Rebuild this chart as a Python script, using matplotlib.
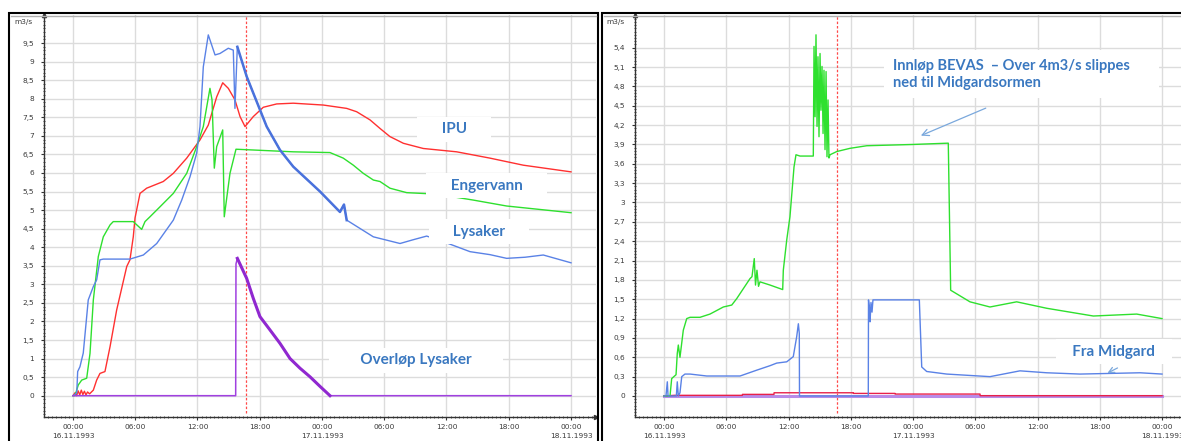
import numpy as np
import matplotlib.pyplot as plt
from matplotlib.patches import Rectangle
from matplotlib.ticker import MultipleLocator

# time in hours since 16.11.1993 00:00, flow in m3/s
marker_hour = 16.65  # red dashed line

# --- left panel: Lysaker
lys_t = [0, 0.36, 0.45, 0.67, 0.99, 1.47, 1.96, 2.28, 2.60, 2.92, 5.49, 6.78, 8.07, 9.67, 10.48,
         11.28, 11.92, 12.24, 12.56, 13.04, 13.69, 14.17, 14.97, 15.45, 15.61, 15.84, 16.74, 17.38,
         18.67, 19.95, 21.23, 23.81, 25.73, 26.12, 26.38, 28.95, 31.52, 32.77, 34.09, 35.69, 38.27,
         40.19, 41.80, 43.57, 45.33, 48.0]
lys_q = [0, 0.07, 0.65, 0.78, 1.15, 2.58, 2.94, 3.12, 3.66, 3.68, 3.68, 3.79, 4.10, 4.73, 5.27,
         5.90, 6.53, 7.25, 8.86, 9.72, 9.18, 9.22, 9.36, 9.31, 7.74, 9.40, 8.60, 8.15,
         7.25, 6.62, 6.17, 5.50, 4.95, 5.15, 4.73, 4.28, 4.10, 4.20, 4.30, 4.15, 3.88,
         3.80, 3.70, 3.73, 3.79, 3.58]

ipu_t = [0, 0.2, 0.35, 0.5, 0.65, 0.8, 0.95, 1.1, 1.25, 1.4, 1.6, 1.96, 2.28, 2.60, 3.08, 3.57,
         4.21, 5.18, 5.49, 5.81, 5.98, 6.46, 7.10, 7.90, 8.70, 9.67, 10.96, 12.24, 13.04, 13.85,
         14.43, 14.97, 15.61, 16.10, 16.58, 17.38, 18.34, 19.63, 21.23, 24.13, 26.38, 27.34, 28.63,
         29.59, 30.55, 31.20, 31.84, 32.80, 33.76, 36.98, 40.19, 43.40, 48.0]
ipu_q = [0, 0.08, 0.0, 0.13, 0.02, 0.15, 0.03, 0.12, 0.02, 0.10, 0.05, 0.15, 0.42, 0.60, 0.65, 1.32,
         2.31, 3.48, 3.66, 4.28, 4.79, 5.45, 5.59, 5.68, 5.77, 5.99, 6.40, 6.89, 7.29, 8.05,
         8.43, 8.28, 7.97, 7.52, 7.25, 7.52, 7.77, 7.86, 7.88, 7.83, 7.74, 7.65, 7.43,
         7.20, 6.98, 6.89, 6.80, 6.73, 6.66, 6.57, 6.40, 6.21, 6.03]

eng_t = [0, 0.19, 0.51, 0.84, 1.32, 1.64, 1.96, 2.44, 2.92, 3.57, 3.88, 5.81, 6.62, 6.94, 7.42,
         8.39, 9.67, 10.96, 11.92, 12.56, 13.20, 13.40, 13.62, 13.85, 14.43, 14.58, 15.13, 15.71,
         21.23, 24.77, 26.05, 27.02, 27.98, 28.95, 29.59, 30.55, 32.16, 35.06, 38.58, 41.80, 48.0]
eng_q = [0, 0.0, 0.29, 0.42, 0.47, 1.14, 2.58, 3.75, 4.28, 4.60, 4.69, 4.69, 4.48, 4.69, 4.82,
         5.09, 5.45, 5.99, 6.71, 7.25, 8.28, 7.97, 6.13, 6.71, 7.16, 4.82, 5.99, 6.64,
         6.57, 6.55, 6.40, 6.21, 5.99, 5.81, 5.77, 5.59, 5.47, 5.43, 5.27, 5.11, 4.93]

ovl_t = [0, 15.68, 15.71, 15.84, 16.74, 17.38, 18.02, 18.99, 19.95, 20.92, 21.88, 22.84, 23.81, 24.77, 48.0]
ovl_q = [0, 0, 3.55, 3.70, 3.16, 2.62, 2.13, 1.77, 1.41, 1.00, 0.74, 0.51, 0.25, 0, 0]

# --- right panel: BEVAS / Midgard
bev_t = [0, 0.58, 0.74, 1.16, 1.28, 1.38, 1.54, 1.86, 2.19, 2.51, 3.47, 4.43, 5.72, 6.53, 7.01,
         8.29, 8.48, 8.70, 8.82, 8.96, 9.11, 9.25, 10.22, 11.44, 11.50, 11.83, 12.14, 12.53, 12.72,
         13.11, 14.39, 14.46, 14.56, 14.65, 14.75, 14.84, 14.94, 15.04, 15.13, 15.23, 15.33, 15.42,
         15.52, 15.62, 15.71, 15.81, 15.90, 16.00, 16.65, 17.93, 19.54, 21.78, 24.03, 27.40, 27.63,
         29.49, 31.42, 33.99, 36.89, 41.38, 45.56, 48.0]
bev_q = [0, 0, 0.27, 0.33, 0.66, 0.79, 0.60, 1.02, 1.20, 1.22, 1.22, 1.27, 1.38, 1.41, 1.51,
         1.82, 1.85, 2.13, 1.72, 1.95, 1.70, 1.77, 1.72, 1.65, 1.95, 2.42, 2.78, 3.55, 3.74,
         3.72, 3.72, 5.42, 4.33, 5.60, 4.18, 5.26, 4.02, 5.31, 4.43, 5.11, 4.07, 5.05,
         3.82, 5.03, 3.71, 4.59, 3.69, 3.74, 3.79, 3.84, 3.88, 3.89, 3.90, 3.92, 1.64,
         1.46, 1.38, 1.46, 1.36, 1.24, 1.27, 1.20]

mid_t = [0, 0.19, 0.32, 0.39, 1.19, 1.28, 1.38, 1.54, 1.71, 2.02, 2.51, 4.12, 5.72, 7.33, 8.93,
         10.22, 10.86, 11.83, 12.46, 12.79, 12.95, 13.04, 13.06, 19.69, 19.71, 19.81, 19.86, 19.95,
         20.05, 20.14, 24.61, 24.84, 25.32, 27.25, 31.42, 34.31, 36.89, 40.10, 45.88, 48.0]
mid_q = [0, 0, 0.22, 0, 0, 0.22, 0, 0.05, 0.30, 0.34, 0.34, 0.31, 0.31, 0.31, 0.40,
         0.47, 0.51, 0.53, 0.61, 0.92, 1.12, 0.97, 0, 0, 1.49, 1.35, 1.15, 1.45,
         1.30, 1.49, 1.49, 0.45, 0.38, 0.34, 0.30, 0.39, 0.36, 0.34, 0.36, 0.34]

red_t = [0, 1.0, 7.55, 7.56, 10.60, 10.61, 18.25, 18.26, 22.27, 22.28, 30.46, 30.47, 48.0]
red_q = [0, 0.01, 0.01, 0.025, 0.025, 0.05, 0.05, 0.04, 0.04, 0.03, 0.03, 0.005, 0.005]

pur_t = [0, 48.0]
pur_q = [0, 0]

hour_ticks = list(range(0, 49, 6))
dates = {0: "16.11.1993", 24: "17.11.1993", 48: "18.11.1993"}
left_yticks = np.arange(0, 9.51, 0.5)
right_yticks = np.arange(0, 5.41, 0.3)

txt_color = "#3a78c0"
arrow_color = "#7aa8dc"

W, H = 1181, 441
fig = plt.figure(figsize=(W / 100, H / 100), dpi=100)

# panel frames
fig.add_artist(Rectangle((9 / W, -0.05), (598 - 9) / W, 1 - 13 / H + 0.05,
                         transform=fig.transFigure, fill=False, ec="black", lw=1.5))
fig.add_artist(Rectangle((602 / W, -0.05), (W - 602) / W + 0.05, 1 - 13 / H + 0.05,
                         transform=fig.transFigure, fill=False, ec="black", lw=1.5))
fig.add_artist(plt.Line2D([11 / W, 596 / W], [1 - 15.5 / H] * 2, transform=fig.transFigure,
                          color="#b0b0b0", lw=1))
fig.add_artist(plt.Line2D([604 / W, 1.0], [1 - 15.5 / H] * 2, transform=fig.transFigure,
                          color="#b0b0b0", lw=1))

ax1 = fig.add_axes([44 / W, (H - 416.7) / H, (596 - 44) / W, (416.7 - 15) / H])
ax2 = fig.add_axes([635 / W, (H - 416.7) / H, (W - 635) / W, (416.7 - 15) / H])
ax1.set_xlim(-2.795, 50.41)
ax1.set_ylim(-0.566, 10.256)
ax2.set_xlim(-2.795, 49.83)
ax2.set_ylim(-0.321, 5.907)


def comma(v):
    return f"{round(v, 1):g}".replace(".", ",")


for ax, yt, ymin in [(ax1, left_yticks, 0.1), (ax2, right_yticks, 0.05)]:
    for s in ["top", "right"]:
        ax.spines[s].set_visible(False)
    for s in ["left", "bottom"]:
        ax.spines[s].set_color("#333333")
        ax.spines[s].set_linewidth(1)
    ax.set_axisbelow(True)
    ax.grid(True, which="major", color="#dcdcdc", lw=1)
    ax.set_yticks(yt, [comma(v) for v in yt])
    ax.set_xticks(hour_ticks, [f"{h % 24:02d}:00" + ("\n" + dates[h] if h in dates else "")
                               for h in hour_ticks])
    for lab in ax.get_xticklabels():
        lab.set_linespacing(1.75)
    ax.xaxis.set_minor_locator(MultipleLocator(0.4))
    ax.yaxis.set_minor_locator(MultipleLocator(ymin))
    ax.tick_params(which="major", length=2, width=0.8, color="#333333",
                   labelsize=5.3, labelcolor="#3a3a3a")
    ax.tick_params(axis="x", which="major", pad=3)
    ax.tick_params(axis="y", which="major", pad=5)
    ax.tick_params(which="minor", length=2, width=0.6, direction="inout", color="#333333")
    ax.plot([0], [1], marker="^", ms=3, color="#333333", transform=ax.transAxes, clip_on=False)
    ax.axvline(marker_hour, color="#ff4a4a", lw=0.9, ls=(0, (2, 1.5)), ymin=0.01)

ax1.plot([1], [0], marker=">", ms=3, color="#333333", transform=ax1.transAxes, clip_on=False)
ax1.text(-0.02, 10.07, "m3/s", transform=ax1.get_yaxis_transform(), ha="right", va="center",
         fontsize=5.3, color="#3a3a3a")
ax2.text(-0.02, 5.80, "m3/s", transform=ax2.get_yaxis_transform(), ha="right", va="center",
         fontsize=5.3, color="#3a3a3a")

# left panel lines
lys_t, lys_q = np.array(lys_t), np.array(lys_q)
ax1.plot(ipu_t, ipu_q, color="#ff3030", lw=1)
ax1.plot(eng_t, eng_q, color="#2ee02e", lw=1)
ax1.plot(lys_t, lys_q, color="#5a82e6", lw=1)
noisy = (lys_t >= 15.8) & (lys_t <= 26.4)
ax1.plot(lys_t[noisy], lys_q[noisy], color="#4a72dc", lw=1.8)
ax1.plot(ovl_t, ovl_q, color="#a040e0", lw=1.1)
ovl_t, ovl_q = np.array(ovl_t), np.array(ovl_q)
dec = (ovl_t >= 15.84) & (ovl_t <= 24.77)
ax1.plot(ovl_t[dec], ovl_q[dec], color="#9028d0", lw=2.2)

label_kw = dict(ha="center", va="center", fontsize=11, fontweight="bold", family="Lato",
                color=txt_color, bbox=dict(fc="white", ec="none", pad=4))
ax1.text(36.72, 7.18, "     IPU     ", **label_kw)
ax1.text(39.87, 5.65, "     Engervann     ", **label_kw)
ax1.text(39.13, 4.41, "     Lysaker     ", **label_kw)
ax1.text(33.06, 0.96, "       Overløp Lysaker       ", **label_kw)

# right panel lines
ax2.plot(pur_t, pur_q, color="#b88ce8", lw=2.2)
ax2.plot(red_t, red_q, color="#e8204a", lw=1)
ax2.plot(bev_t, bev_q, color="#2ee02e", lw=1)
ax2.plot(mid_t, mid_q, color="#5a82e6", lw=1)

ax2.text(22.04, 4.99, "Innløp BEVAS  – Over 4m3/s slippes      \nned til Midgardsormen",
         ha="left", va="center", fontsize=10.5, fontweight="bold", family="Lato",
         color=txt_color, linespacing=1.25, bbox=dict(fc="white", ec="none", pad=6))
ax2.annotate("", xy=(24.51, 4.02), xytext=(31.26, 4.48),
             arrowprops=dict(arrowstyle="->", color=arrow_color, lw=0.9, mutation_scale=12))
ax2.text(43.37, 0.687, "   Fra Midgard   ", ha="center", va="center", fontsize=11,
         fontweight="bold", family="Lato", color=txt_color,
         bbox=dict(fc="white", ec="none", pad=4))
ax2.annotate("", xy=(42.5, 0.336), xytext=(43.95, 0.454),
             arrowprops=dict(arrowstyle="->", color=arrow_color, lw=0.9, mutation_scale=10))

fig.savefig("out.png", dpi=100)
